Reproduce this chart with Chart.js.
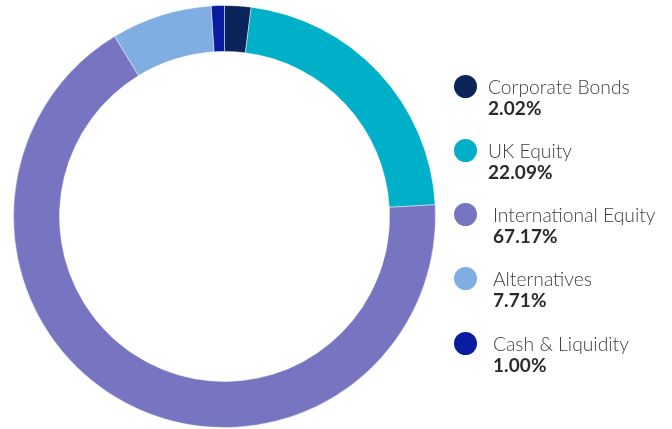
<!DOCTYPE html>
<html>
<head>
<meta charset="utf-8">
<script src="https://cdn.jsdelivr.net/npm/chart.js@4.4.1/dist/chart.umd.min.js"></script>
<style>
  html, body { margin: 0; padding: 0; background: #fff; }
  #wrap { position: relative; width: 672px; height: 429px; overflow: hidden; }
  #chartBox { position: absolute; left: 13px; top: 5px; width: 423px; height: 423px; }
  #legend { position: absolute; left: 0; top: 0; width: 672px; height: 429px; }
  .item { position: absolute; left: 454px; height: 50px; width: 215px; }
  .dot { position: absolute; left: 0; top: 0; width: 23px; height: 23px; border-radius: 50%; }
  .txt { position: absolute; left: 34px; top: 1px; font-family: Lato, "Noto Sans", sans-serif; white-space: nowrap; }
  .item.shift .txt { left: 39px; }
  .lbl { font-size: 19.3px; line-height: 21px; color: #3f3f3f; font-weight: 300; letter-spacing: 0; }
  .pct { font-size: 19px; line-height: 21px; color: #2b2b2b; font-weight: 700; letter-spacing: 0.1px; }
</style>
</head>
<body>
<div id="wrap">
  <div id="chartBox"><canvas id="allocChart"></canvas></div>
  <div id="legend"></div>
</div>
<script>
// portfolio allocation
const categories = ['Corporate Bonds', 'UK Equity', 'International Equity', 'Alternatives', 'Cash & Liquidity'];
const weights = [2.02, 22.09, 67.17, 7.71, 1.00];
const pctLabels = ['2.02%', '22.09%', '67.17%', '7.71%', '1.00%'];
const colours = ['#0b2459', '#00afc8', '#7775c1', '#80aee3', '#0a1ca0'];

const ctx = document.getElementById('allocChart').getContext('2d');
const allocChart = new Chart(ctx, {
    type: 'doughnut',
    data: {
        labels: categories,
        datasets: [{
            data: weights,
            backgroundColor: colours,
            borderColor: 'rgba(255,255,255,0.45)',
            borderWidth: 1
        }]
    },
    options: {
        responsive: true,
        maintainAspectRatio: false,
        animation: false,
        cutout: '78.2%',
        layout: { padding: 0 },
        plugins: {
            legend: { display: false },
            tooltip: { enabled: false }
        }
    }
});

// html legend, two lines per entry
const legend = document.getElementById('legend');
const firstTop = 74.5;
const step = 64.3;
categories.forEach((name, i) => {
    const item = document.createElement('div');
    item.className = 'item' + (i >= 2 ? ' shift' : '');
    item.style.top = (firstTop + i * step) + 'px';
    item.innerHTML =
        '<div class="dot" style="background:' + colours[i] + '"></div>' +
        '<div class="txt"><div class="lbl"></div><div class="pct"></div></div>';
    item.querySelector('.lbl').textContent = name;
    item.querySelector('.pct').textContent = pctLabels[i];
    legend.appendChild(item);
});
</script>
</body>
</html>
